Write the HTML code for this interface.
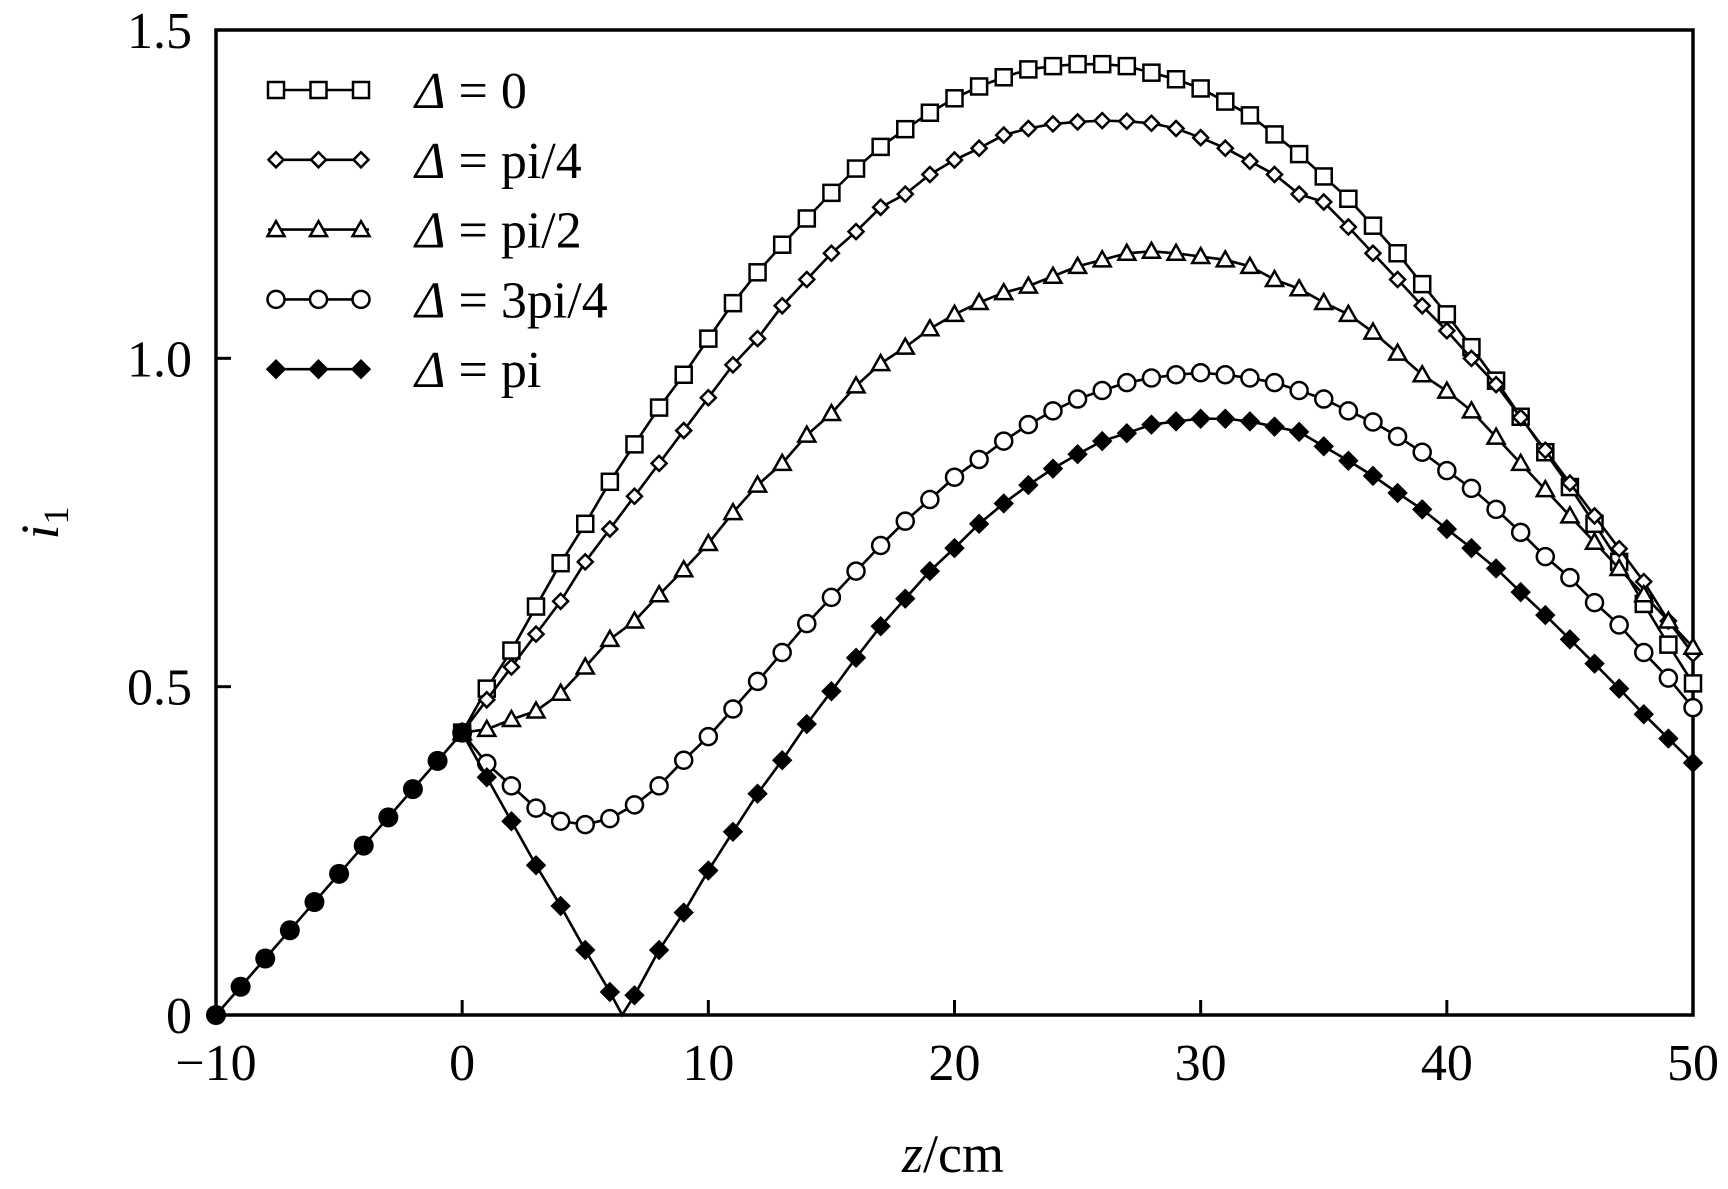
<!DOCTYPE html>
<html><head><meta charset="utf-8"><style>
html,body{margin:0;padding:0;background:#fff}
svg{display:block}
text{font-family:"Liberation Serif",serif;fill:#000}
</style></head><body>
<svg id="chart" width="1728" height="1189" viewBox="0 0 1728 1189" xmlns="http://www.w3.org/2000/svg"></svg>
<script>
const zCommon=[-10,-9,-8,-7,-6,-5,-4,-3,-2,-1,0];
const iCommon=[0,0.043,0.086,0.129,0.172,0.215,0.258,0.301,0.344,0.387,0.43];
const zMain=[0,1,2,3,4,5,6,7,8,9,10,11,12,13,14,15,16,17,18,19,20,21,22,23,24,25,26,27,28,29,30,31,32,33,34,35,36,37,38,39,40,41,42,43,44,45,46,47,48,49,50];
const iD0=[0.43,0.497,0.555,0.622,0.688,0.748,0.812,0.869,0.925,0.975,1.03,1.084,1.131,1.173,1.213,1.252,1.289,1.322,1.349,1.374,1.396,1.414,1.428,1.44,1.445,1.448,1.448,1.445,1.435,1.425,1.411,1.391,1.37,1.341,1.311,1.277,1.243,1.202,1.16,1.113,1.067,1.017,0.966,0.911,0.857,0.804,0.748,0.69,0.626,0.564,0.505];
const iDpi4=[0.43,0.48,0.53,0.58,0.63,0.69,0.74,0.79,0.84,0.89,0.94,0.99,1.03,1.08,1.12,1.16,1.193,1.23,1.25,1.28,1.302,1.32,1.34,1.35,1.357,1.36,1.362,1.361,1.358,1.35,1.336,1.32,1.30,1.28,1.25,1.238,1.2,1.16,1.12,1.08,1.042,1.0,0.96,0.91,0.86,0.81,0.76,0.71,0.66,0.60,0.55];
const iDpi2=[0.43,0.435,0.45,0.463,0.49,0.53,0.572,0.60,0.64,0.678,0.718,0.765,0.807,0.84,0.883,0.916,0.958,0.992,1.017,1.045,1.067,1.085,1.10,1.11,1.125,1.14,1.15,1.16,1.163,1.16,1.155,1.15,1.14,1.12,1.106,1.085,1.067,1.04,1.008,0.975,0.95,0.92,0.88,0.84,0.80,0.76,0.72,0.68,0.64,0.60,0.56];
const iD3pi4=[0.43,0.383,0.349,0.315,0.295,0.29,0.299,0.32,0.349,0.388,0.424,0.466,0.508,0.552,0.596,0.636,0.676,0.715,0.752,0.785,0.819,0.846,0.874,0.899,0.92,0.938,0.951,0.963,0.97,0.975,0.978,0.975,0.97,0.963,0.951,0.938,0.92,0.903,0.881,0.857,0.829,0.802,0.77,0.735,0.698,0.666,0.628,0.594,0.552,0.513,0.468];
const zPi=[0,1,2,3,4,5,6,6.5,7,8,9,10,11,12,13,14,15,16,17,18,19,20,21,22,23,24,25,26,27,28,29,30,31,32,33,34,35,36,37,38,39,40,41,42,43,44,45,46,47,48,49,50];
const iDpi=[0.43,0.362,0.295,0.228,0.166,0.099,0.035,0.0,0.03,0.099,0.156,0.22,0.279,0.337,0.388,0.443,0.493,0.544,0.592,0.634,0.676,0.711,0.748,0.779,0.807,0.832,0.854,0.874,0.886,0.899,0.904,0.908,0.908,0.904,0.896,0.888,0.866,0.844,0.821,0.795,0.77,0.74,0.711,0.68,0.644,0.609,0.572,0.535,0.497,0.458,0.421,0.384];
const xTicks=[-10,0,10,20,30,40,50];
const xTickLabels=["\u221210","0","10","20","30","40","50"];
const yTicks=[0,0.5,1.0,1.5];
const yTickLabels=["0","0.5","1.0","1.5"];
const legendValues=["0","pi/4","pi/2","3pi/4","pi"];

const L=216,R=1693,T=30,B=1015;
const X=z=>L+(z+10)/60*(R-L);
const Y=v=>B-v/1.5*(B-T);
const NS='http://www.w3.org/2000/svg';
const svg=document.getElementById('chart');
function mk(tag,attrs,parent){const e=document.createElementNS(NS,tag);for(const k in attrs)e.setAttribute(k,attrs[k]);(parent||svg).appendChild(e);return e;}

xTicks.forEach((t,i)=>{
  const tk=mk('line',{x1:X(t),x2:X(t),y1:B,y2:B-15,stroke:'#000','stroke-width':3});
  
  
  const lb=mk('text',{x:X(t),y:1080,'font-size':52,'text-anchor':'middle'});
  lb.textContent=xTickLabels[i];
  
  
});
yTicks.forEach((t,i)=>{
  const tk=mk('line',{x1:L,x2:L+15,y1:Y(t),y2:Y(t),stroke:'#000','stroke-width':3});
  
  
  const lb=mk('text',{x:192,y:Y(t)+18,'font-size':52,'text-anchor':'end'});
  lb.textContent=yTickLabels[i];
  
  
});

const fr=mk('rect',{x:L,y:T,width:R-L,height:B-T,fill:'none',stroke:'#000','stroke-width':3.5});



function marker(kind,x,y,g){
  let e;
  if(kind==='square')e=mk('rect',{x:x-8,y:y-8,width:16,height:16,fill:'#fff',stroke:'#000','stroke-width':2.5},g);
  else if(kind==='diamond')e=mk('polygon',{points:`${x},${y-7.5} ${x+7.5},${y} ${x},${y+7.5} ${x-7.5},${y}`,fill:'#fff',stroke:'#000','stroke-width':2.5},g);
  else if(kind==='triangle')e=mk('polygon',{points:`${x},${y-8.5} ${x+8.5},${y+6.5} ${x-8.5},${y+6.5}`,fill:'#fff',stroke:'#000','stroke-width':2.5},g);
  else if(kind==='circle')e=mk('circle',{cx:x,cy:y,r:8.5,fill:'#fff',stroke:'#000','stroke-width':2.5},g);
  else if(kind==='fdiamond')e=mk('polygon',{points:`${x},${y-9.5} ${x+9.5},${y} ${x},${y+9.5} ${x-9.5},${y}`,fill:'#000',stroke:'#000','stroke-width':1},g);
  else if(kind==='fcircle')e=mk('circle',{cx:x,cy:y,r:10,fill:'#000'},g);
  
  
}
function series(name,zs,vs,kind){
  const g=mk('g',{});
  
  
  const p=mk('polyline',{points:zs.map((z,i)=>X(z)+','+Y(vs[i])).join(' '),fill:'none',stroke:'#000','stroke-width':2.6},g);
  
  
  zs.forEach((z,i)=>{if(Number.isInteger(z))marker(kind,X(z),Y(vs[i]),g);});
}
series('series-delta-0',zMain,iD0,'square');
series('series-delta-pi4',zMain,iDpi4,'diamond');
series('series-delta-pi2',zMain,iDpi2,'triangle');
series('series-delta-3pi4',zMain,iD3pi4,'circle');
series('series-delta-pi',zPi,iDpi,'fdiamond');
series('series-common',zCommon,iCommon,'fcircle');

const kinds=['square','diamond','triangle','circle','fdiamond'];
const lg=mk('g',{});


legendValues.forEach((t,i)=>{
  const y=90+i*69.8;
  const eg=mk('g',{},lg);
  
  
  mk('line',{x1:268,x2:369,y1:y,y2:y,stroke:'#000','stroke-width':2.6},eg);
  [276,318.5,361].forEach(x=>marker(kinds[i],x,y,eg));
  const tx=mk('text',{x:415,y:y+18,'font-size':52,'xml:space':'preserve'},eg);
  tx.innerHTML='<tspan font-style="italic">\u0394</tspan> = '+t;
  
  
});

const xt=mk('text',{x:953,y:1172,'font-size':54,'text-anchor':'middle'});
xt.innerHTML='<tspan font-style="italic">z</tspan>/cm';


const yt=mk('text',{x:0,y:0,'font-size':54,'text-anchor':'middle',transform:'translate(58,523) rotate(-90)'});
yt.innerHTML='<tspan font-style="italic">i</tspan><tspan font-size="36" dy="10">1</tspan>';


</script>
</body></html>
